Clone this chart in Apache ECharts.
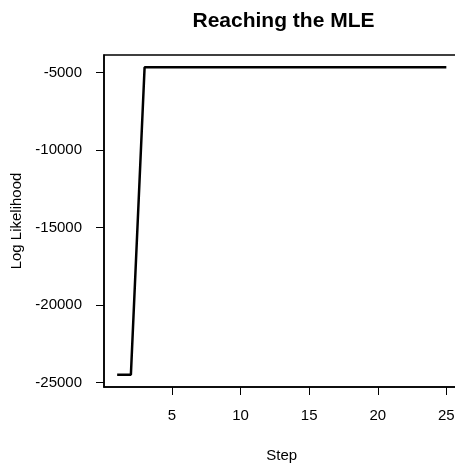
<!DOCTYPE html>
<html>
<head>
<meta charset="utf-8">
<script src="https://cdn.jsdelivr.net/npm/echarts@6/dist/echarts.min.js"></script>
<style>
  html, body { margin: 0; padding: 0; background: #fff; }
  #chart { width: 455px; height: 464px; }
</style>
</head>
<body>
<div id="chart"></div>
<script>
const steps = [1,2,3,4,5,6,7,8,9,10,11,12,13,14,15,16,17,18,19,20,21,22,23,24,25];
const logLik = [-24500,-24500,-4650,-4650,-4650,-4650,-4650,-4650,-4650,-4650,-4650,-4650,-4650,-4650,-4650,-4650,-4650,-4650,-4650,-4650,-4650,-4650,-4650,-4650,-4650];
const xTicks = [5,10,15,20,25];
const yTicks = [-25000,-20000,-15000,-10000,-5000];

const font = 'Liberation Sans, Arial, Helvetica, sans-serif';
const chart = echarts.init(document.getElementById('chart'), null, {renderer: 'canvas'});
chart.setOption({
  animation: false,
  backgroundColor: '#ffffff',
  title: {
    text: 'Reaching the MLE',
    left: 278.5,
    textAlign: 'center',
    top: 6,
    textStyle: { fontFamily: font, fontSize: 21, fontWeight: 'bold', color: '#000' }
  },
  grid: {
    left: 104, top: 55, width: 355.5, height: 332,
    outerBoundsMode: 'none', containLabel: false,
    show: true, borderColor: '#000', borderWidth: 1.5, backgroundColor: 'transparent'
  },
  xAxis: {
    type: 'value', min: 0.04, max: 25.96,
    name: 'Step', nameLocation: 'middle', nameGap: 61,
    nameTextStyle: { fontFamily: font, fontSize: 15, color: '#000' },
    axisLine: { show: true, lineStyle: { color: '#000', width: 1.5 } },
    axisTick: { show: true, length: 8, lineStyle: { color: '#000', width: 1 }, customValues: xTicks },
    axisLabel: { customValues: xTicks, formatter: v => String(v), fontFamily: font, fontSize: 15, color: '#000', margin: 21 },
    splitLine: { show: false }
  },
  yAxis: {
    type: 'value', min: -25294, max: -3856,
    name: 'Log Likelihood', nameLocation: 'middle', nameGap: 71,
    nameTextStyle: { fontFamily: font, fontSize: 15, color: '#000' },
    axisLine: { show: true, lineStyle: { color: '#000', width: 1.5 } },
    axisTick: { show: true, length: 8, lineStyle: { color: '#000', width: 1 }, customValues: yTicks },
    axisLabel: { customValues: yTicks, formatter: v => String(v), fontFamily: font, fontSize: 15, color: '#000', margin: 22 },
    splitLine: { show: false }
  },
  series: [{
    type: 'line',
    data: steps.map((s, i) => [s, logLik[i]]),
    showSymbol: false,
    symbol: 'none',
    lineStyle: { color: '#000', width: 2.5 },
    clip: true
  }]
});
</script>
</body>
</html>
